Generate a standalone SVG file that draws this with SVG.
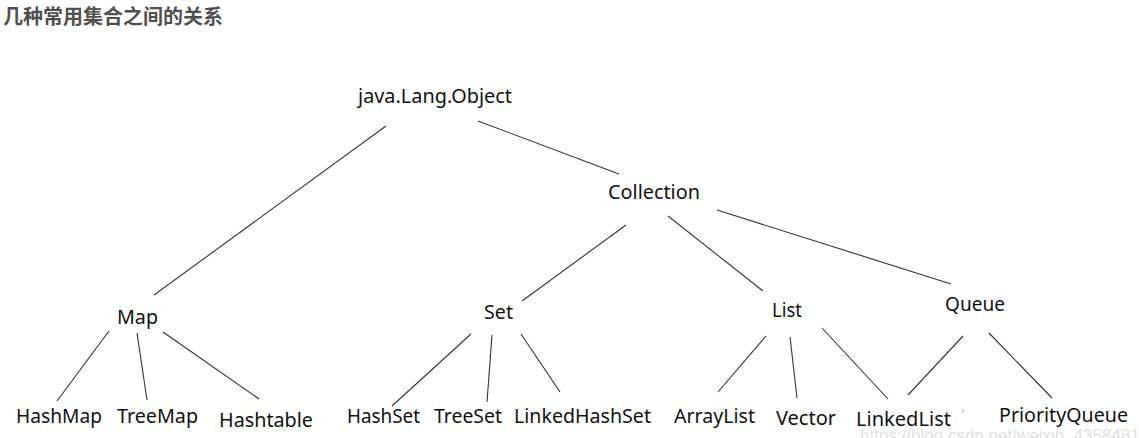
<svg xmlns="http://www.w3.org/2000/svg" width="1139" height="438" viewBox="0 0 1139 438">
<style>
.title{font-family:"Noto Sans CJK SC","Noto Sans",sans-serif;font-weight:bold;font-size:20px;fill:#4f4f4f}
.node text{font-family:"Noto Sans","Liberation Sans",sans-serif;font-size:19px;fill:#111;lengthAdjust:spacingAndGlyphs}
.edge{stroke:#333;stroke-width:1.1;fill:none}
.wm{font-family:"Liberation Sans",Arial,sans-serif;font-size:17px;fill:#e2e2e2}
</style>
<rect width="1139" height="438" fill="#fff"/>
<text class="title" x="3" y="24">几种常用集合之间的关系</text>
<g id="connectors">
<line class="edge" x1="386" y1="126" x2="154" y2="295"/>
<line class="edge" x1="478" y1="121" x2="619" y2="174"/>
<line class="edge" x1="626" y1="225" x2="522" y2="301"/>
<line class="edge" x1="668" y1="216" x2="763" y2="291"/>
<line class="edge" x1="717" y1="210" x2="951" y2="284"/>
<line class="edge" x1="109" y1="331" x2="57" y2="401"/>
<line class="edge" x1="137" y1="333" x2="147" y2="400"/>
<line class="edge" x1="163" y1="332" x2="259" y2="399"/>
<line class="edge" x1="471" y1="334" x2="392" y2="406"/>
<line class="edge" x1="492" y1="335" x2="487" y2="402"/>
<line class="edge" x1="521" y1="334" x2="560" y2="392"/>
<line class="edge" x1="766" y1="336" x2="718" y2="392"/>
<line class="edge" x1="790" y1="337" x2="797" y2="398"/>
<line class="edge" x1="822" y1="328" x2="888" y2="399"/>
<line class="edge" x1="963" y1="336" x2="908" y2="395"/>
<line class="edge" x1="989" y1="333" x2="1052" y2="398"/>
</g>
<g id="object" class="node"><text x="358" y="103" textLength="154" lengthAdjust="spacingAndGlyphs">java.Lang.Object</text></g>
<g id="collection" class="node"><text x="608" y="199" textLength="92" lengthAdjust="spacingAndGlyphs">Collection</text></g>
<g id="map" class="node"><text x="117" y="324" textLength="41" lengthAdjust="spacingAndGlyphs">Map</text></g>
<g id="set" class="node"><text x="484" y="319" textLength="29" lengthAdjust="spacingAndGlyphs">Set</text></g>
<g id="list" class="node"><text x="772" y="317" textLength="30" lengthAdjust="spacingAndGlyphs">List</text></g>
<g id="queue" class="node"><text x="945" y="311" textLength="60" lengthAdjust="spacingAndGlyphs">Queue</text></g>
<g id="hashmap" class="node"><text x="16" y="423" textLength="86" lengthAdjust="spacingAndGlyphs">HashMap</text></g>
<g id="treemap" class="node"><text x="117" y="423" textLength="81" lengthAdjust="spacingAndGlyphs">TreeMap</text></g>
<g id="hashtable" class="node"><text x="219" y="427" textLength="94" lengthAdjust="spacingAndGlyphs">Hashtable</text></g>
<g id="hashset" class="node"><text x="347" y="423" textLength="73" lengthAdjust="spacingAndGlyphs">HashSet</text></g>
<g id="treeset" class="node"><text x="434" y="423" textLength="68" lengthAdjust="spacingAndGlyphs">TreeSet</text></g>
<g id="linkedhashset" class="node"><text x="514" y="423" textLength="137" lengthAdjust="spacingAndGlyphs">LinkedHashSet</text></g>
<g id="arraylist" class="node"><text x="674" y="423" textLength="81" lengthAdjust="spacingAndGlyphs">ArrayList</text></g>
<g id="vector" class="node"><text x="776" y="425" textLength="60" lengthAdjust="spacingAndGlyphs">Vector</text></g>
<g id="linkedlist" class="node"><text x="856" y="426" textLength="95" lengthAdjust="spacingAndGlyphs">LinkedList</text></g>
<g id="priorityqueue" class="node"><text x="999" y="422" textLength="129" lengthAdjust="spacingAndGlyphs">PriorityQueue</text></g>
<line x1="963" y1="409" x2="963" y2="413" stroke="#aaa" stroke-width="1"/>
<text class="wm" x="860" y="441">https://blog.csdn.net/weixin_4358481</text>
</svg>
